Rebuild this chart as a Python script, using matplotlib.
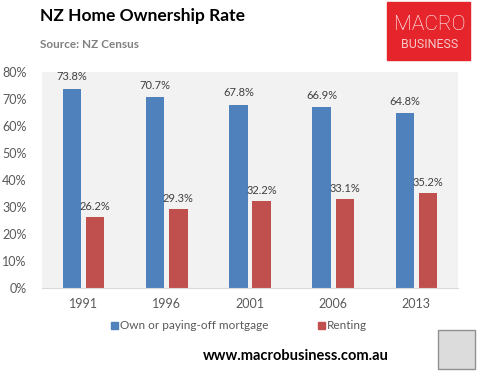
import matplotlib
matplotlib.use("Agg")
import matplotlib.pyplot as plt
from matplotlib.patches import Rectangle
import numpy as np

years = ["1991", "1996", "2001", "2006", "2013"]
own = [73.8, 70.7, 67.8, 66.9, 64.8]
rent = [26.2, 29.3, 32.2, 33.1, 35.2]
series_names = ["Own or paying-off mortgage", "Renting"]
yticks = [0, 10, 20, 30, 40, 50, 60, 70, 80]

plt.rcParams["font.family"] = ["Lato", "DejaVu Sans"]

W, H = 478, 371
fig = plt.figure(figsize=(W / 100, H / 100), dpi=100)
fig.patch.set_facecolor("white")

def fx(px):
    return px / W

def fy(py):
    return 1 - py / H

ax = fig.add_axes([fx(42), fy(288), fx(458) - fx(42), fy(72) - fy(288)])
ax.set_facecolor("#F2F2F2")

blue = "#4F81BD"
red = "#C0504D"
x = np.arange(len(years))
bw = 0.22
gap = 0.06
off = (bw + gap) / 2
ax.bar(x - off, own, bw, color=blue)
ax.bar(x + off, rent, bw, color=red)

for xi, v in zip(x, own):
    ax.text(xi - off, v + 2.4, f"{v:.1f}%", ha="center", va="bottom", fontsize=8, color="#404040")
for xi, v in zip(x, rent):
    ax.text(xi + off, v + 1.8, f"{v:.1f}%", ha="center", va="bottom", fontsize=8, color="#404040")

ax.set_xlim(-0.5, len(years) - 0.5)
ax.set_ylim(0, 80)
ax.set_yticks(yticks)
ax.set_yticklabels([f"{t}%" for t in yticks], fontsize=9, color="#595959")
ax.set_xticks(x)
ax.set_xticklabels(years, fontsize=9, color="#595959")
ax.tick_params(axis="both", length=0)
ax.tick_params(axis="y", pad=11)
ax.tick_params(axis="x", pad=7)
for s in ["top", "right", "left"]:
    ax.spines[s].set_visible(False)
ax.spines["bottom"].set_color("#D9D9D9")

# legend
fig.patches.append(Rectangle((fx(111), fy(329)), 7 / W, 7 / H, transform=fig.transFigure, color=blue))
fig.text(fx(120), fy(325.5), series_names[0], fontsize=8.5, color="#595959", va="center", ha="left")
fig.patches.append(Rectangle((fx(318), fy(329)), 7 / W, 7 / H, transform=fig.transFigure, color=red))
fig.text(fx(327), fy(325.5), series_names[1], fontsize=8.5, color="#595959", va="center", ha="left")

# title
fig.text(fx(40), fy(16), "NZ Home Ownership Rate", fontsize=12.5, fontweight="bold", color="black", va="center", ha="left")
fig.text(fx(40), fy(45), "Source: NZ Census", fontsize=8.5, fontweight="bold", color="#808080", va="center", ha="left")

# logo
fig.patches.append(Rectangle((fx(387), fy(60)), 83 / W, 58 / H, transform=fig.transFigure, color="#E5242B"))
fig.text(fx(429.5), fy(24.5), "MACRO", fontsize=15, color="white", ha="center", va="center",
         family="Roboto", fontweight="light")
fig.text(fx(429.5), fy(45), "BUSINESS", fontsize=9, color="#F6C9C9", ha="center", va="center",
         family="Roboto")

# footer
fig.text(fx(203), fy(356), "www.macrobusiness.com.au", fontsize=10.5, fontweight="bold", color="black", ha="left", va="center")
fig.patches.append(Rectangle((fx(438), fy(369)), 37 / W, 39 / H, transform=fig.transFigure,
                             facecolor="#DCDCDC", edgecolor="#909090", linewidth=1))

fig.savefig("out.png", dpi=100, facecolor="white")
